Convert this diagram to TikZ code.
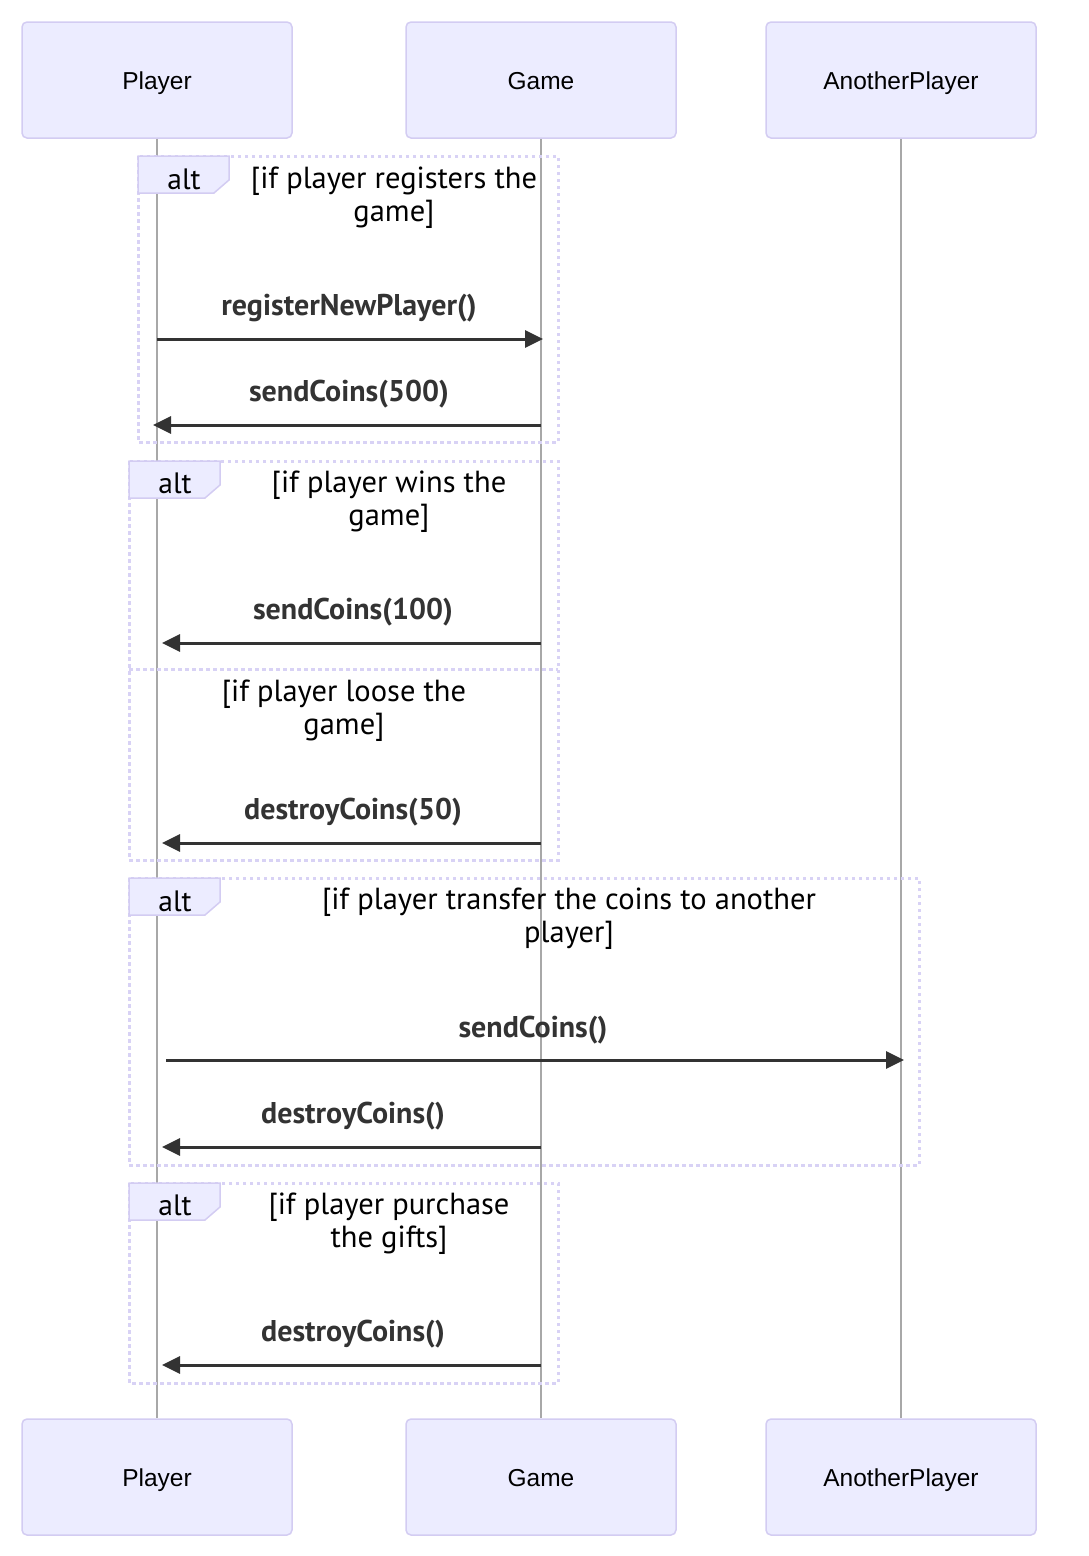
\documentclass[tikz,border=0pt]{standalone}
\usepackage{fontspec}
\setmainfont{Liberation Sans}
\newfontfamily\trebfont{PT Sans}
\usetikzlibrary{arrows.meta}

\definecolor{actorfill}{HTML}{ECECFF}
\definecolor{actorline}{HTML}{D3CCF2}
\definecolor{loopline}{HTML}{D8D2F5}
\definecolor{lifegray}{HTML}{A8A8A8}
\definecolor{msggray}{HTML}{333333}

% alt tab in the top left corner of a frame
\newcommand{\alttab}[2]{%
  \draw[alt_tab] (#1,#2) -- ++(91,0) -- ++(0,24) -- ++(-15,13) -- ++(-76,0) -- cycle;}

\begin{document}
\begin{tikzpicture}[x=1pt, y=-1pt, >={Triangle[length=18pt, width=17pt]}]
    \tikzstyle{actor_style} = [draw=actorline, line width=1.5pt, fill=actorfill, rounded corners=5pt,
                               minimum width=270pt, minimum height=116pt, text height=22pt, text depth=4pt,
                               font=\fontsize{24.5}{28}\selectfont]
    \tikzstyle{life_line} = [lifegray, line width=1.3pt]
    \tikzstyle{loop_box} = [loopline, line width=3pt, dash pattern=on 3.5pt off 3.5pt]
    \tikzstyle{alt_tab} = [draw=actorline, line width=1.5pt, fill=actorfill]
    \tikzstyle{alt_text} = [font=\trebfont\fontsize{29.5}{33}\selectfont, inner sep=0pt]
    \tikzstyle{cond_text} = [font=\trebfont\fontsize{30.5}{33}\selectfont, align=center, inner sep=0pt]
    \tikzstyle{msg_text} = [font=\trebfont\bfseries\fontsize{30}{32}\selectfont, text=msggray, inner sep=0pt]
    \tikzstyle{msg_arrow} = [->, msggray, line width=3pt]

    \useasboundingbox (0,0) rectangle (1088,1556);

    % actors
    \node[actor_style] (nPlayerT) at (157,80) {Player};
    \node[actor_style] (nGameT) at (541,80) {Game};
    \node[actor_style] (nOtherT) at (901,80) {AnotherPlayer};
    \node[actor_style] (nPlayerB) at (157,1477) {Player};
    \node[actor_style] (nGameB) at (541,1477) {Game};
    \node[actor_style] (nOtherB) at (901,1477) {AnotherPlayer};

    \draw[life_line] (nPlayerT) -- (nPlayerB);
    \draw[life_line] (nGameT) -- (nGameB);
    \draw[life_line] (nOtherT) -- (nOtherB);

    % frames
    \draw[loop_box] (138,156) rectangle (558,442);
    \draw[loop_box] (129,461) rectangle (558,860);
    \draw[loop_box] (129,669) -- (558,669);
    \draw[loop_box] (129,878) rectangle (919,1165);
    \draw[loop_box] (129,1183) rectangle (558,1383);
    \alttab{138}{156}
    \alttab{129}{461}
    \alttab{129}{878}
    \alttab{129}{1183}

    \node[alt_text] (nAlt1) at (184,179) {alt};
    \node[alt_text] (nAlt2) at (175,483) {alt};
    \node[alt_text] (nAlt3) at (175,901) {alt};
    \node[alt_text] (nAlt4) at (175,1205) {alt};

    \node[cond_text] (nCond1) at (394,198) {[if player registers the\\game]};
    \node[cond_text] (nCond2) at (389,502) {[if player wins the\\game]};
    \node[cond_text] (nCond2b) at (344,711) {[if player loose the\\game]};
    \node[cond_text] (nCond3) at (569,919) {[if player transfer the coins to another\\player]};
    \node[cond_text] (nCond4) at (389,1224) {[if player purchase\\the gifts]};

    % messages
    \coordinate (cM1a) at (157,339);  \coordinate (cM1b) at (543,339);
    \coordinate (cM2a) at (541,425);  \coordinate (cM2b) at (153,425);
    \coordinate (cM3a) at (541,643);  \coordinate (cM3b) at (162,643);
    \coordinate (cM4a) at (541,843);  \coordinate (cM4b) at (162,843);
    \coordinate (cM5a) at (166,1060); \coordinate (cM5b) at (904,1060);
    \coordinate (cM6a) at (541,1147); \coordinate (cM6b) at (162,1147);
    \coordinate (cM7a) at (541,1365); \coordinate (cM7b) at (162,1365);

    \node[msg_text] (nM1) at (349,308) {registerNewPlayer()};
    \node[msg_text] (nM2) at (349,394) {sendCoins(500)};
    \node[msg_text] (nM3) at (353,612) {sendCoins(100)};
    \node[msg_text] (nM4) at (353,812) {destroyCoins(50)};
    \node[msg_text] (nM5) at (533,1030) {sendCoins()};
    \node[msg_text] (nM6) at (353,1116) {destroyCoins()};
    \node[msg_text] (nM7) at (353,1334) {destroyCoins()};

    \draw[msg_arrow] (cM1a) -- (cM1b);
    \draw[msg_arrow] (cM2a) -- (cM2b);
    \draw[msg_arrow] (cM3a) -- (cM3b);
    \draw[msg_arrow] (cM4a) -- (cM4b);
    \draw[msg_arrow] (cM5a) -- (cM5b);
    \draw[msg_arrow] (cM6a) -- (cM6b);
    \draw[msg_arrow] (cM7a) -- (cM7b);
\end{tikzpicture}
\end{document}
